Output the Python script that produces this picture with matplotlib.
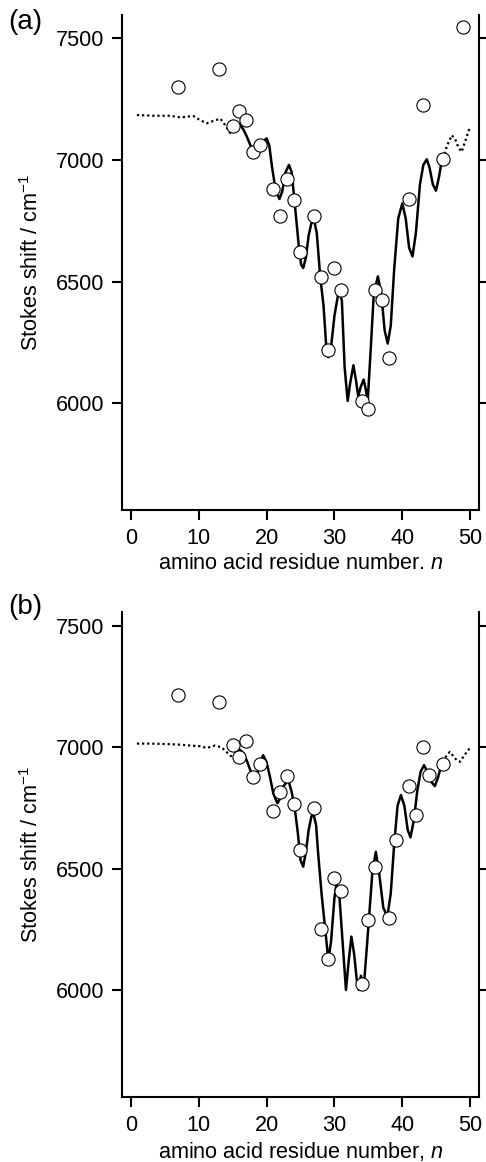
import matplotlib
matplotlib.use('Agg')
import matplotlib.pyplot as plt

plt.rcParams['font.family'] = ['Liberation Sans', 'DejaVu Sans']
plt.rcParams['mathtext.fontset'] = 'custom'
plt.rcParams['mathtext.rm'] = 'Liberation Sans'
plt.rcParams['mathtext.it'] = 'Liberation Sans:italic'

# ---- panel (a) data ----
a_pts_n = [7, 13, 15, 16, 17, 18, 19, 21, 22, 23, 24, 25, 27, 28, 29, 30, 31,
           34, 35, 36, 37, 38, 41, 43, 46, 49]
a_pts_v = [7300, 7376, 7138, 7200, 7163, 7033, 7060, 6881, 6768, 6922, 6835, 6623,
           6768, 6518, 6221, 6556, 6464, 6010, 5975, 6464, 6426, 6187, 6840, 7225,
           7003, 7546]

a_dot1_n = [0.9, 3.3, 5.8, 7.3, 9.2, 10.2, 11.2, 12.2, 13.2, 13.9, 14.6, 15.1]
a_dot1_v = [7185, 7182, 7182, 7175, 7181, 7164, 7151, 7161, 7170, 7144, 7112, 7108]

a_line_n = [15.3, 16.0, 16.6, 17.1, 17.8, 18.3, 18.8, 19.4, 20.0, 20.4, 20.8, 21.2,
            21.5, 21.9, 22.3, 22.8, 23.3, 23.7, 24.1, 24.5, 24.8, 25.1, 25.4, 25.8,
            26.2, 26.6, 27.0, 27.4, 27.9, 28.4, 28.8, 29.1, 29.5, 30.0, 30.5, 30.8,
            31.1, 31.5, 31.95, 32.3, 32.8, 33.2, 33.5, 33.9, 34.3, 34.6, 34.9, 35.3,
            35.8, 36.4, 36.9, 37.4, 37.85, 38.3, 38.8, 39.4, 40.0, 40.5, 41.0, 41.5,
            42.0, 42.6, 43.1, 43.6, 44.0, 44.5, 44.96, 45.4, 45.8, 46.0]
a_line_v = [7130, 7148, 7125, 7096, 7048, 7041, 7050, 7075, 7089, 7060, 6973, 6900,
            6864, 6840, 6870, 6950, 6980, 6950, 6836, 6720, 6631, 6570, 6556, 6600,
            6690, 6740, 6754, 6700, 6522, 6400, 6230, 6190, 6230, 6360, 6440, 6460,
            6420, 6150, 6010, 6080, 6157, 6090, 6030, 6070, 6098, 6060, 6010, 6200,
            6450, 6522, 6450, 6300, 6246, 6320, 6550, 6760, 6822, 6760, 6640, 6604,
            6700, 6900, 6980, 7003, 6970, 6900, 6874, 6930, 6995, 7005]

a_dot2_n = [46.0, 46.6, 47.3, 47.8, 48.3, 48.75, 49.3, 49.9]
a_dot2_v = [7005, 7060, 7102, 7085, 7050, 7034, 7080, 7130]

# ---- panel (b) data ----
b_pts_n = [7, 13, 15, 16, 17, 18, 19, 21, 22, 23, 24, 25, 27, 28, 29, 30, 31,
           34, 35, 36, 38, 39, 41, 42, 43, 44, 46]
b_pts_v = [7218, 7186, 7009, 6959, 7026, 6879, 6931, 6739, 6817, 6883, 6767, 6577,
           6750, 6252, 6130, 6462, 6410, 6026, 6289, 6509, 6296, 6619, 6841, 6721,
           7003, 6886, 6934]

b_dot1_n = [0.9, 3.0, 5.3, 7.0, 8.3, 10.2, 11.2, 12.4, 13.4, 14.6, 15.0]
b_dot1_v = [7016, 7016, 7014, 7012, 7009, 7005, 6998, 7008, 7000, 6968, 6960]

b_line_n = [15.1, 15.6, 16.1, 16.6, 17.1, 17.6, 18.1, 18.6, 19.0, 19.5, 20.0, 20.5,
            21.0, 21.6, 22.0, 22.5, 23.2, 23.7, 24.2, 24.6, 25.0, 25.4, 25.8, 26.2,
            26.6, 26.9, 27.3, 27.6, 28.1, 28.5, 29.1, 29.5, 30.0, 30.3, 30.7, 31.2,
            31.7, 32.1, 32.5, 32.9, 33.3, 33.6, 33.9, 34.3, 34.7, 35.1, 35.6, 36.1,
            36.6, 37.2, 37.8, 38.3, 38.8, 39.3, 39.8, 40.3, 40.8, 41.2, 41.7, 42.2,
            42.7, 43.2, 43.7, 44.2, 44.8, 45.3, 45.8, 46.0]
b_line_v = [7003, 6996, 6990, 6975, 6945, 6907, 6859, 6885, 6940, 6968, 6940, 6879,
            6810, 6770, 6790, 6840, 6866, 6817, 6740, 6650, 6536, 6509, 6570, 6660,
            6715, 6728, 6680, 6564, 6399, 6289, 6125, 6200, 6380, 6440, 6400, 6200,
            6001, 6120, 6221, 6150, 6040, 6001, 6060, 6005, 6150, 6300, 6490, 6570,
            6480, 6340, 6303, 6400, 6600, 6760, 6804, 6760, 6660, 6630, 6700, 6820,
            6900, 6927, 6900, 6860, 6841, 6880, 6934, 6940]

b_dot2_n = [46.0, 46.5, 47.0, 47.5, 48.0, 48.5, 49.2, 49.9]
b_dot2_v = [6940, 6965, 6982, 6965, 6948, 6941, 6970, 6996]

x_ticks = [0, 10, 20, 30, 40, 50]
y_ticks = [6000, 6500, 7000, 7500]


def draw_panel(ax, pts_n, pts_v, dot1, line, dot2, xlabel, ylim):
    dots = (0, (1, 1.3))
    ax.plot(dot1[0], dot1[1], color='black', linestyle=dots, linewidth=1.6)
    ax.plot(line[0], line[1], color='black', linestyle='-', linewidth=1.8,
            solid_joinstyle='round')
    ax.plot(dot2[0], dot2[1], color='black', linestyle=dots, linewidth=1.6)
    ax.plot(pts_n, pts_v, linestyle='none', marker='o', markersize=9.5,
            markerfacecolor='white', markeredgecolor='black', markeredgewidth=0.8,
            zorder=5)
    ax.set_xlim(-1.3, 51.3)
    ax.set_ylim(*ylim)
    ax.set_xticks(x_ticks)
    ax.set_yticks(y_ticks)
    ax.spines['top'].set_visible(False)
    for s in ['left', 'right', 'bottom']:
        ax.spines[s].set_linewidth(1.5)
    ax.tick_params(direction='out', length=7, width=1.5, labelsize=15.6, right=True,
                   pad=6)
    ax.set_xlabel(xlabel, fontsize=15.6, labelpad=3)
    ax.set_ylabel('Stokes shift / cm$^{-1}$', fontsize=15.6, labelpad=9)


fig = plt.figure(figsize=(4.86, 11.62), dpi=100)
ax1 = fig.add_axes([0.251, 0.5611, 0.7346, 0.4260])
ax2 = fig.add_axes([0.251, 0.0559, 0.7346, 0.4174])

draw_panel(ax1, a_pts_n, a_pts_v, (a_dot1_n, a_dot1_v), (a_line_n, a_line_v),
           (a_dot2_n, a_dot2_v), 'amino acid residue number. $\\mathit{n}$', (5562, 7596))
draw_panel(ax2, b_pts_n, b_pts_v, (b_dot1_n, b_dot1_v), (b_line_n, b_line_v),
           (b_dot2_n, b_dot2_v), 'amino acid residue number, $\\mathit{n}$', (5560, 7558))

fig.text(0.016, 0.992, '(a)', fontsize=20, ha='left', va='top')
fig.text(0.016, 0.489, '(b)', fontsize=20, ha='left', va='top')

fig.savefig('out.png', dpi=100)
